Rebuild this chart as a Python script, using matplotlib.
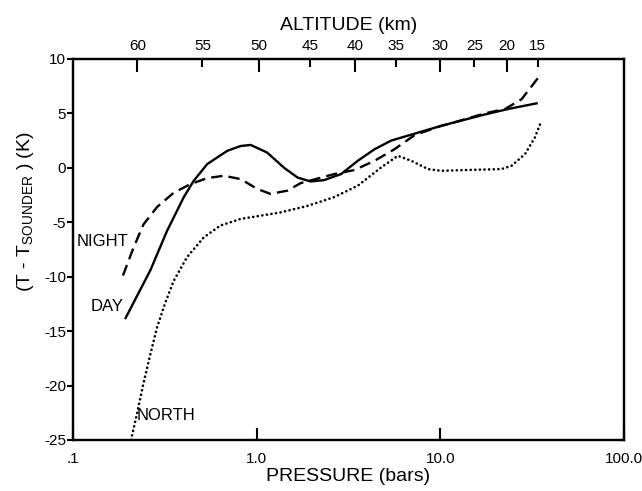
import matplotlib
matplotlib.use("Agg")
import matplotlib.pyplot as plt
import numpy as np

plt.rcParams['font.family'] = ['Liberation Sans', 'DejaVu Sans']

# DAY (solid)
day_p = [0.192, 0.264, 0.325, 0.401, 0.454, 0.538, 0.692, 0.818, 0.927, 1.14, 1.41, 1.67,
         1.97, 2.33, 2.88, 3.55, 4.38, 5.40, 6.65, 8.57, 10.1, 11.5, 17.5, 23.4, 33.9]
day_t = [-13.9, -9.4, -5.8, -2.7, -1.2, 0.34, 1.56, 2.0, 2.1, 1.4, 0.0, -0.9,
         -1.26, -1.13, -0.58, 0.64, 1.7, 2.5, 2.95, 3.5, 3.85, 4.1, 4.9, 5.4, 5.94]

# NIGHT (dashed)
night_p = [0.187, 0.214, 0.242, 0.287, 0.353, 0.436, 0.538, 0.663, 0.818, 1.01, 1.19, 1.47,
           1.74, 2.06, 2.64, 3.40, 4.38, 5.62, 7.24, 10.1, 11.5, 17.5, 22.5, 27.7, 34.2]
night_t = [-9.9, -7.3, -5.2, -3.6, -2.3, -1.5, -0.95, -0.73, -1.04, -1.95, -2.4, -2.1,
           -1.4, -1.07, -0.58, -0.21, 0.64, 1.7, 3.0, 3.85, 4.1, 5.0, 5.4, 6.3, 8.3]

# NORTH (dotted)
north_p = [0.207, 0.223, 0.242, 0.264, 0.287, 0.318, 0.353, 0.418, 0.515, 0.635, 0.818, 1.05,
           1.35, 1.89, 2.64, 3.55, 4.76, 5.87, 6.95, 8.57, 10.1, 14.2, 21.5, 24.4, 28.9, 32.7, 34.9]
north_t = [-25.0, -22.6, -19.8, -17.1, -14.65, -12.4, -10.4, -8.2, -6.4, -5.3, -4.7, -4.4,
           -4.1, -3.5, -2.7, -1.65, 0.03, 1.1, 0.64, -0.12, -0.28, -0.2, -0.12, 0.18, 1.26, 2.78, 4.0]

x_ticks = [0.1, 1.0, 10.0, 100.0]
x_ticklabels = ['.1', '1.0', '10.0', '100.0']
y_ticks = [-25, -20, -15, -10, -5, 0, 5, 10]
y_ticklabels = ['-25', '-20', '-15', '-10', '-5', '0', '5', '10']

alt_labels = ['60', '55', '50', '45', '40', '35', '30', '25', '20', '15']
alt_pressure = [0.224, 0.507, 1.03, 1.95, 3.43, 5.75, 9.9, 15.3, 23.0, 33.9]

fig = plt.figure(figsize=(6.42, 4.91), dpi=100)
ax = fig.add_axes([0.1137, 0.104, 0.972 - 0.1137, 0.880 - 0.104])

ax.plot(day_p, day_t, color='black', lw=1.7, solid_capstyle='butt')
ax.plot(night_p, night_t, color='black', lw=1.7, dashes=(4.8, 2.6))
ax.plot(north_p, north_t, color='black', lw=1.9, linestyle=(0, (0.05, 1.7)), dash_capstyle='round')

ax.set_xscale('log')
ax.set_xlim(0.1, 100)
ax.set_ylim(-25, 10)
ax.set_xticks(x_ticks)
ax.set_xticklabels(x_ticklabels)
ax.xaxis.set_minor_locator(matplotlib.ticker.NullLocator())
ax.set_yticks(y_ticks)
ax.set_yticklabels(y_ticklabels)
ax.tick_params(axis='x', direction='in', length=9, width=1.5, labelsize=11, pad=9)
ax.tick_params(axis='y', direction='out', length=4, width=1.5, labelsize=11, pad=1)

for s in ['left', 'bottom', 'top', 'right']:
    ax.spines[s].set_linewidth(1.6)

ax.set_xlabel('PRESSURE (bars)', fontsize=14, labelpad=1)
ax.set_ylabel(r'(T - T$_{\mathregular{SOUNDER}}$ ) (K)', fontsize=14)
ax.yaxis.set_label_coords(-0.068, 0.60)

top = ax.twiny()
top.set_xscale('log')
top.set_xlim(ax.get_xlim())
top.set_xticks(alt_pressure)
top.set_xticklabels(alt_labels)
top.xaxis.set_minor_locator(matplotlib.ticker.NullLocator())
top.tick_params(axis='x', direction='in', length=6, width=1.5, labelsize=11, pad=4)
for t, lab in zip(top.xaxis.get_major_ticks(), alt_labels):
    if int(lab) % 10 == 0:
        t.tick2line.set_markersize(9)
top.set_xlabel('ALTITUDE (km)', fontsize=14, labelpad=7)
for s in ['left', 'bottom', 'top', 'right']:
    top.spines[s].set_linewidth(1.6)

ax.text(0.20, -6.8, 'NIGHT', fontsize=12, ha='right', va='center')
ax.text(0.188, -12.7, 'DAY', fontsize=12, ha='right', va='center')
ax.text(0.222, -22.8, 'NORTH', fontsize=12, ha='left', va='center')

fig.savefig('out.png', dpi=100)
